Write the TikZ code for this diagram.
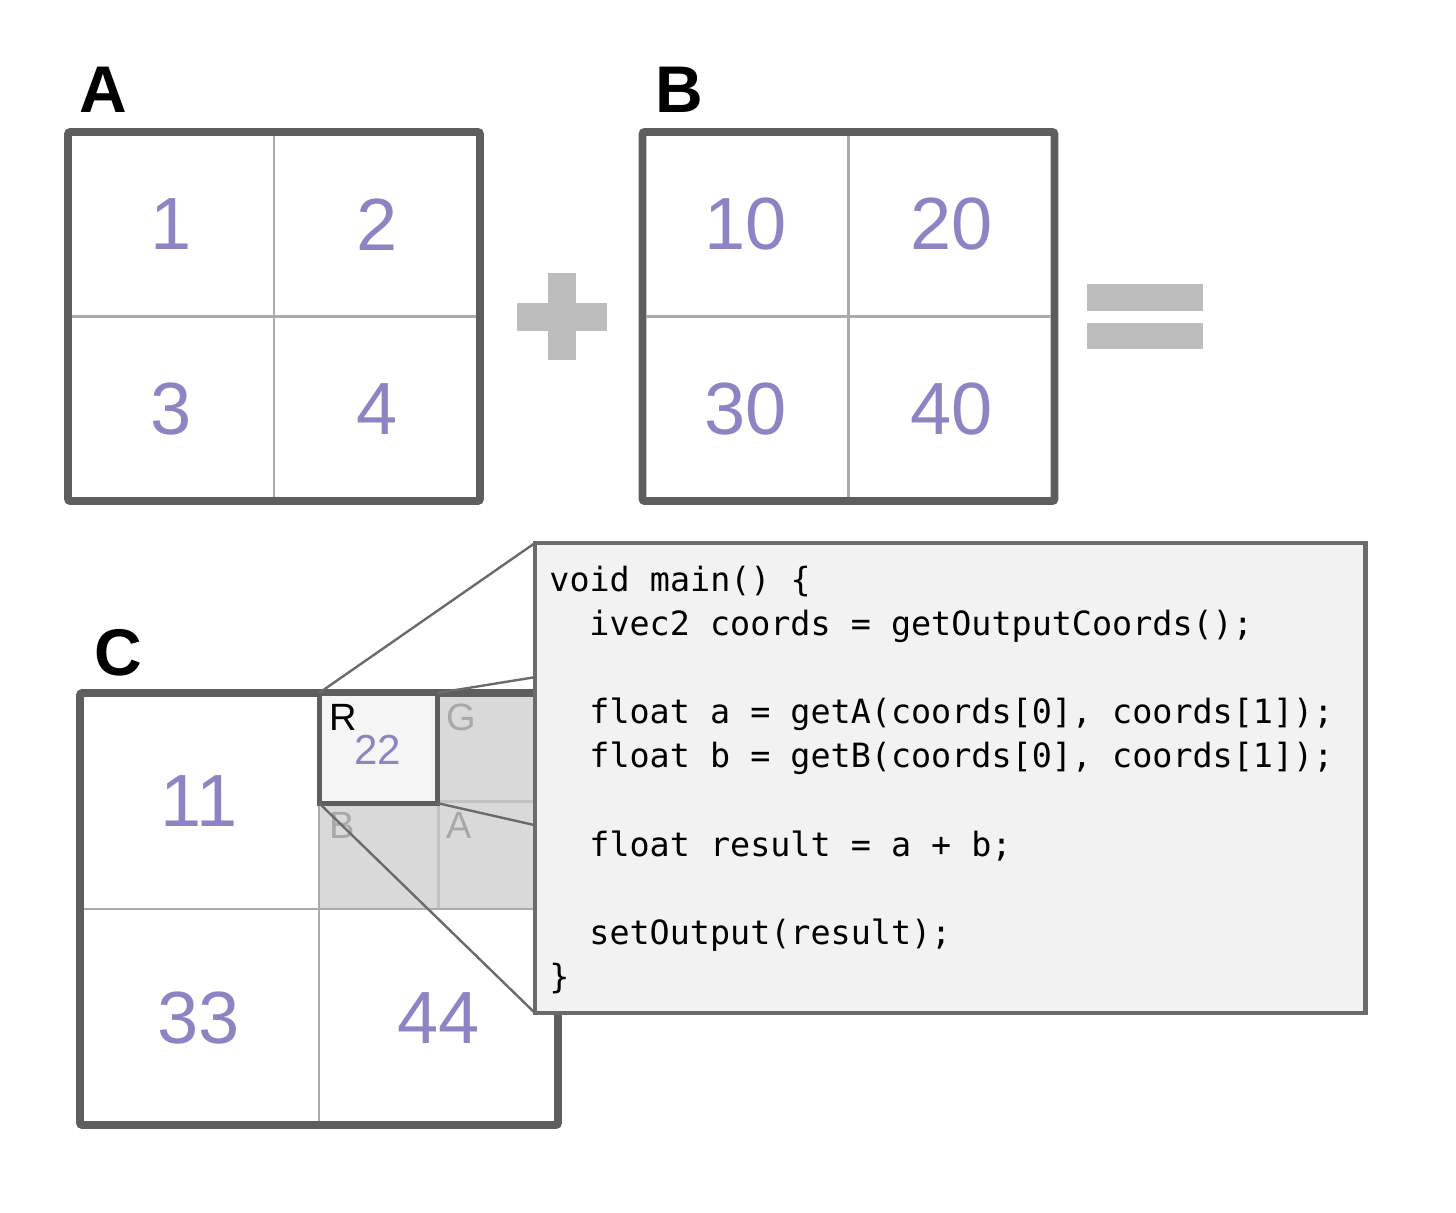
\documentclass[tikz,border=0pt]{standalone}
\usepackage{fontspec}
\setmainfont{Liberation Sans}
\setmonofont{DejaVu Sans Mono}
\usetikzlibrary{calc}
\definecolor{dk}{HTML}{5E5E5E}
\definecolor{divc}{HTML}{ABABAB}
\definecolor{pur}{HTML}{8E84C4}
\definecolor{sym}{HTML}{BDBDBD}
\definecolor{gfill}{HTML}{D9D9D9}
\definecolor{gline}{HTML}{C2C2C2}
\definecolor{glab}{HTML}{A8A8A8}
\definecolor{rfill}{HTML}{F5F5F5}
\definecolor{cfill}{HTML}{F2F2F2}
\definecolor{cbord}{HTML}{6B6B6B}
\pgfdeclarelayer{front}
\pgfsetlayers{main,front}
\begin{document}
\begin{tikzpicture}[x=0.5pt,y=-0.5pt,
  mat/.style={draw=dk, line width=3.8pt, fill=white, inner sep=0pt, outer sep=0pt, rounded corners=1pt},
  divl/.style={draw=divc, line width=1.1pt, shorten <=1.8pt, shorten >=1.8pt},
  num/.style={text=pur, inner sep=0pt, font=\fontsize{37pt}{40pt}\selectfont},
  lab/.style={anchor=base west, inner sep=0pt, font=\bfseries\fontsize{33pt}{36pt}\selectfont},
  chan/.style={anchor=base west, inner sep=0pt, text=glab, font=\fontsize{19pt}{22pt}\selectfont},
  codeln/.style={anchor=base west, inner sep=0pt, font=\ttfamily\fontsize{16.7pt}{20pt}\selectfont},
  conn/.style={draw=cbord, line width=1.2pt},
  symb/.style={fill=sym}]
\useasboundingbox (0,0) rectangle (1456,1212);

% ---------- Matrix A ----------
\node[lab] (labA) at (79,112) {A};
\node[mat, minimum width=206pt, minimum height=184.5pt] (Abox) at (274,316.5) {};
\draw[divl] (Abox.north) -- (Abox.south);
\draw[divl] (Abox.west) -- (Abox.east);
\node[num] (a1) at ($(Abox.north west)!0.25!(Abox.south east)$) {1};
\node[num] (a2) at ($(Abox.north east)!0.25!(Abox.south west)$) {2};
\node[num] (a3) at ($(Abox.south west)!0.25!(Abox.north east)$) {3};
\node[num] (a4) at ($(Abox.south east)!0.25!(Abox.north west)$) {4};

% ---------- plus ----------
\fill[symb] (517,303) rectangle (607,331);
\fill[symb] (548,273) rectangle (576,360);

% ---------- Matrix B ----------
\node[lab] (labB) at (655,112) {B};
\node[mat, minimum width=206pt, minimum height=184.5pt] (Bbox) at (848.5,316.5) {};
\draw[divl] (Bbox.north) -- (Bbox.south);
\draw[divl] (Bbox.west) -- (Bbox.east);
\node[num] (b1) at ($(Bbox.north west)!0.25!(Bbox.south east)$) {10};
\node[num] (b2) at ($(Bbox.north east)!0.25!(Bbox.south west)$) {20};
\node[num] (b3) at ($(Bbox.south west)!0.25!(Bbox.north east)$) {30};
\node[num] (b4) at ($(Bbox.south east)!0.25!(Bbox.north west)$) {40};

% ---------- equals ----------
\fill[symb] (1087,284) rectangle (1203,311);
\fill[symb] (1087,323) rectangle (1203,349);

% ---------- Matrix C ----------
\node[lab] (labC) at (94,675) {C};
\node[mat, draw=none, minimum width=239pt, minimum height=216pt] (Cfill) at (319,909) {};
\node[fill=gfill, inner sep=0pt, outer sep=0pt, minimum width=119.5pt, minimum height=108.5pt] (pix) at (438.5,801.5) {};
\draw[draw=gline, line width=1.1pt] (pix.north) -- (pix.south);
\draw[draw=gline, line width=1.1pt] (pix.west) -- (pix.east);
\draw[divl] (Cfill.north) -- (Cfill.south);
\draw[divl] (Cfill.west) -- (Cfill.east);
\node[mat, fill=none, minimum width=239pt, minimum height=216pt] (Cbox) at (319,909) {};
\node[num] (c1) at (199,801) {11};
\node[num] (c3) at (199,1018) {33};
\node[num] (c4) at (438.5,1018) {44};
\node[draw=dk, fill=rfill, line width=2.5pt, inner sep=0pt, outer sep=0pt, minimum width=59pt, minimum height=55pt] (rbox) at (378,748) {};
\node[chan, text=black] (chR) at (329,730) {R};
\node[text=pur, inner sep=0pt, font=\fontsize{21pt}{24pt}\selectfont] (v22) at (378,750) {22};
\node[chan] (chG) at (446,730) {G};
\node[chan] (chB) at (329,838) {B};
\node[chan] (chA) at (446,838) {A};

% ---------- code box ----------
\begin{pgfonlayer}{front}
\node[draw=cbord, fill=cfill, line width=2.2pt, inner sep=0pt, outer sep=0pt, minimum width=415.25pt, minimum height=235pt] (code) at (950.25,778) {};
\node[codeln] (l0) at (549,591) {void main() \{};
\node[codeln] (l1) at (589,635) {ivec2 coords = getOutputCoords();};
\node[codeln] (l3) at (589,723) {float a = getA(coords[0], coords[1]);};
\node[codeln] (l4) at (589,767) {float b = getB(coords[0], coords[1]);};
\node[codeln] (l6) at (589,856) {float result = a + b;};
\node[codeln] (l8) at (589,944) {setOutput(result);};
\node[codeln] (l9) at (549,988) {\}};
\end{pgfonlayer}

% ---------- zoom connectors ----------
\draw[conn] (rbox.north west) -- (code.north west);
\draw[conn] (rbox.north east) -- (code.north east);
\draw[conn] (rbox.south east) -- (code.south east);
\draw[conn] (rbox.south west) -- (code.south west);
\end{tikzpicture}
\end{document}
